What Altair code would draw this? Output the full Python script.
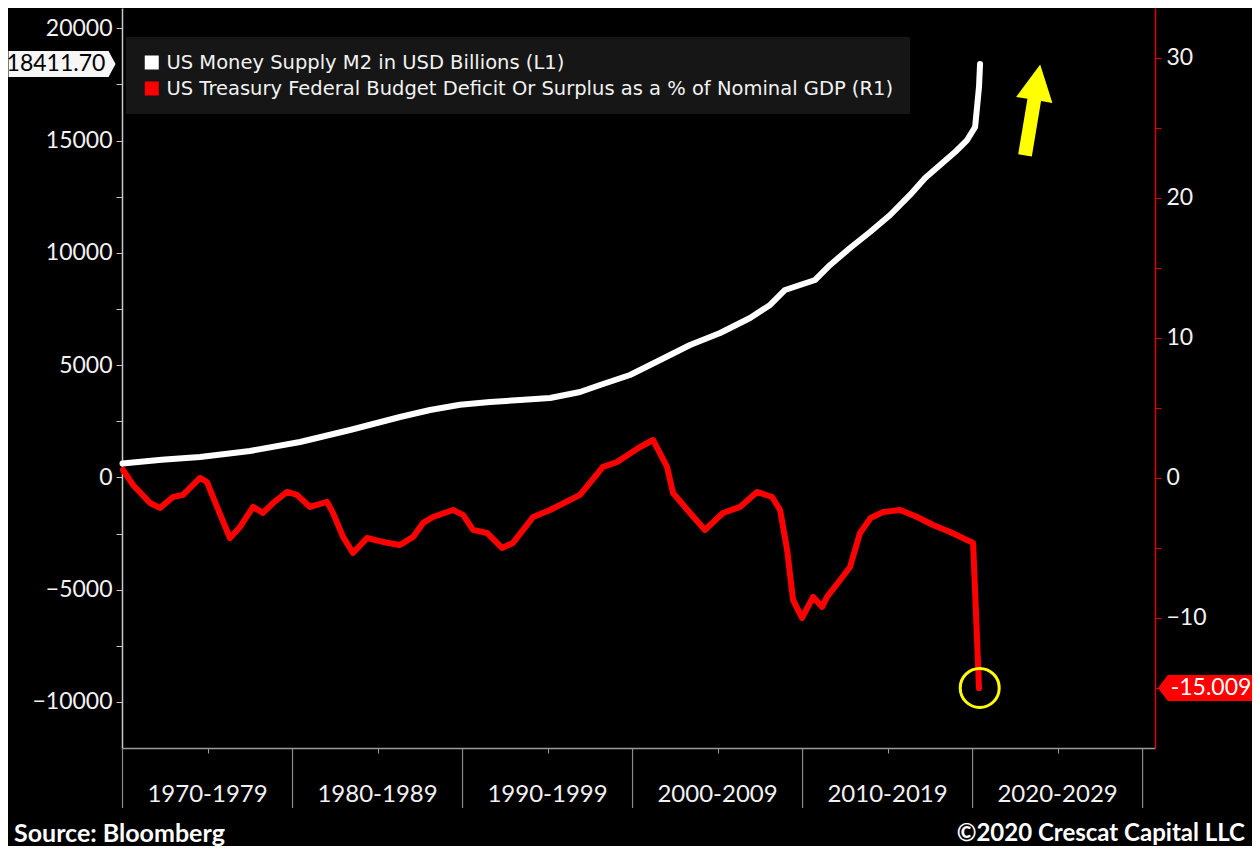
import altair as alt
import pandas as pd

# ---------------- data ----------------
m2_name = "US Money Supply M2 in USD Billions (L1)"
def_name = "US Treasury Federal Budget Deficit Or Surplus as a % of Nominal GDP (R1)"
series_names = [m2_name, def_name]
series_colors = ["#ffffff", "#ff0000"]

m2_years = [1970.0, 1972.3, 1974.56, 1977.5, 1980.44, 1983.38, 1986.32, 1988.09, 1989.85,
            1991.62, 1993.38, 1995.15, 1996.91, 1998.09, 1999.85, 2001.62, 2003.38, 2005.15,
            2006.91, 2008.09, 2008.97, 2009.85, 2010.74, 2011.62, 2012.79, 2013.97, 2015.15,
            2016.32, 2017.21, 2018.09, 2018.97, 2019.68, 2020.15, 2020.38, 2020.44]
m2_values = [620, 780, 908, 1175, 1576, 2110, 2689, 3000, 3233,
             3357, 3446, 3535, 3802, 4114, 4559, 5227, 5895, 6429,
             7097, 7676, 8344, 8566, 8789, 9457, 10214, 10926, 11683,
             12574, 13330, 13909, 14487, 15022, 15600, 17400, 18411.70]

def_years = [1970.03, 1970.62, 1971.62, 1972.21, 1972.97, 1973.56, 1973.97, 1974.56, 1974.97,
             1975.56, 1976.32, 1976.91, 1977.68, 1978.26, 1978.85, 1979.68, 1980.26, 1981.03,
             1982.03, 1982.38, 1982.97, 1983.56, 1984.38, 1985.32, 1986.32, 1987.09, 1987.68,
             1988.26, 1989.44, 1990.03, 1990.62, 1991.44, 1992.32, 1992.97, 1994.15, 1995.15,
             1996.91, 1998.26, 1999.09, 2000.44, 2001.21, 2002.03, 2002.38, 2003.38, 2004.26,
             2005.32, 2006.32, 2007.32, 2008.21, 2008.68, 2009.09, 2009.44, 2009.97, 2010.62,
             2011.15, 2011.44, 2012.21, 2012.79, 2013.38, 2014.0, 2014.74, 2015.74, 2016.74,
             2017.68, 2018.68, 2020.03, 2020.38]
def_values = [0.57, -0.50, -1.79, -2.14, -1.36, -1.21, -0.71, 0.0, -0.29,
              -2.07, -4.29, -3.50, -2.07, -2.50, -1.79, -1.00, -1.21, -2.07,
              -1.71, -2.50, -4.21, -5.36, -4.29, -4.57, -4.79, -4.21, -3.21,
              -2.79, -2.29, -2.64, -3.71, -3.93, -5.00, -4.64, -2.79, -2.29,
              -1.21, 0.79, 1.14, 2.21, 2.71, 0.79, -1.07, -2.50, -3.71,
              -2.50, -2.07, -1.00, -1.36, -2.29, -5.14, -8.71, -10.0, -8.50,
              -9.21, -8.50, -7.29, -6.36, -3.93, -2.86, -2.43, -2.29, -2.79,
              -3.36, -3.86, -4.64, -15.009]

decade_labels = ["1970-1979", "1980-1989", "1990-1999", "2000-2009", "2010-2019", "2020-2029"]
decade_mids = [1975, 1985, 1995, 2005, 2015, 2025]
decade_bounds = [1970, 1980, 1990, 2000, 2010, 2020, 2030]
mid_ticks = [1975, 1985, 1995, 2005, 2015, 2025]

m2_last_label = "18411.70"
m2_last = 18411.70
def_last_label = "-15.009"
def_last = -15.009
circle_year = [2020.42]
circle_value = [-15.0]
arrow_year = [2023.53]
arrow_value = [16360]

left_ticks = list(range(-10000, 20001, 2500))
right_ticks = list(range(-15, 31, 5))

# ---------------- scales ----------------
X_DOMAIN = [1969.97, 2030.73]
L_DOMAIN = [-12050, 20900]
R_DOMAIN = [-19.29, 33.57]

LABEL_FONT = "Lato"
FG = "#f2f2f2"

x_axis = alt.Axis(values=mid_ticks, labels=False, title=None, tickSize=5, grid=False,
                  domainColor="#9a9a9a", tickColor="#9a9a9a", domainWidth=1.5)
xscale = alt.Scale(domain=X_DOMAIN, nice=False, zero=False)


def xenc(field):
    return alt.X(f"{field}:Q", scale=xscale, axis=x_axis)


lscale = alt.Scale(domain=L_DOMAIN, nice=False, zero=False)
rscale = alt.Scale(domain=R_DOMAIN, nice=False, zero=False)

color_scale = alt.Scale(domain=series_names, range=series_colors)
legend = alt.Legend(title=None, orient="none", legendX=4, legendY=29, fillColor="#161616",
                    padding=16, symbolType="square", symbolSize=196, symbolStrokeWidth=0,
                    labelFont="DejaVu Sans", labelFontSize=19.5, labelColor=FG,
                    labelLimit=1000, rowPadding=6, labelOffset=5, symbolOpacity=1,
                    clipHeight=19)

m2_df = pd.DataFrame({"year": m2_years, "value": m2_values, "series": m2_name})
def_df = pd.DataFrame({"year": def_years, "value": def_values, "series": def_name})

m2_line = alt.Chart(m2_df).mark_line(strokeWidth=6, strokeJoin="round", strokeCap="round",
                                     color=series_colors[0]).encode(
    x=xenc("year"),
    y=alt.Y("value:Q", scale=lscale,
            axis=alt.Axis(orient="left", values=left_ticks,
                          labelExpr="datum.value % 5000 == 0 ? datum.label : ''",
                          format="d", tickSize=6, grid=False, title=None, labelPadding=4,
                          domainColor="#c8c8c8", tickColor="#c8c8c8", domainWidth=1.5)),
)

def_line = alt.Chart(def_df).mark_line(strokeWidth=6, strokeJoin="round", strokeCap="round",
                                       color=series_colors[1]).encode(
    x=xenc("year"),
    y=alt.Y("value:Q", scale=rscale,
            axis=alt.Axis(orient="right", values=right_ticks,
                          labelExpr="datum.value % 10 == 0 ? datum.label : ''",
                          format="d", tickSize=6, grid=False, title=None, labelPadding=5,
                          domainColor="#e00000", tickColor="#e00000", domainWidth=1.5)),
)

# legend carrier (invisible filled squares, so the legend shows filled swatches)
leg_df = pd.DataFrame({"series": series_names, "year": [1970.0, 1970.0], "value": [0.0, 0.0]})
legend_layer = alt.Chart(leg_df).mark_square(filled=True, opacity=0, size=1).encode(
    x=xenc("year"),
    y=alt.Y("value:Q", scale=lscale, axis=None),
    color=alt.Color("series:N", scale=color_scale, legend=legend, sort=series_names),
)

# decade bands below the axis
bounds_df = pd.DataFrame({"year": decade_bounds})
decade_rules = alt.Chart(bounds_df).mark_rule(color="#8a8a8a", strokeWidth=1.2).encode(
    x=xenc("year"), y=alt.value(741), y2=alt.value(800))

dec_df = pd.DataFrame({"mid": decade_mids, "label": decade_labels})
decade_text = alt.Chart(dec_df).mark_text(font=LABEL_FONT, fontSize=24, color=FG,
                                          baseline="middle", align="center").encode(
    x=xenc("mid"), y=alt.value(787), text="label:N")

# last value tags
TAG_RIGHT = "M-1,-0.243 L0.87,-0.243 L1,0 L0.87,0.243 L-1,0.243 Z"
TAG_LEFT = "M-1,0 L-0.8,-0.265 L1,-0.265 L1,0.265 L-0.8,0.265 Z"

m2_tag_df = pd.DataFrame({"value": [m2_last], "label": [m2_last_label]})
m2_tag = alt.Chart(m2_tag_df).mark_point(shape=TAG_RIGHT, size=11449, filled=True,
                                         color="#f6f6f6", opacity=1, strokeWidth=0).encode(
    x=alt.value(-60), y=alt.Y("value:Q", scale=lscale, axis=None))
m2_tag_text = alt.Chart(m2_tag_df).mark_text(font=LABEL_FONT, fontSize=23, color="#000000",
                                             baseline="middle", align="center").encode(
    x=alt.value(-66), y=alt.Y("value:Q", scale=lscale, axis=None), text="label:N")

def_tag_df = pd.DataFrame({"value": [def_last], "label": [def_last_label]})
def_tag = alt.Chart(def_tag_df).mark_point(shape=TAG_LEFT, size=9604, filled=True,
                                           color="#ff0000", opacity=1, strokeWidth=0).encode(
    x=alt.value(1085), y=alt.Y("value:Q", scale=rscale, axis=None))
def_tag_text = alt.Chart(def_tag_df).mark_text(font=LABEL_FONT, fontSize=23, color="#ffffff",
                                               baseline="middle", align="center").encode(
    x=alt.value(1089), y=alt.Y("value:Q", scale=rscale, axis=None), text="label:N")

# yellow annotations
circle_df = pd.DataFrame({"year": circle_year, "value": circle_value})
circle = alt.Chart(circle_df).mark_point(shape="circle", size=1520, filled=False,
                                         color="#ffff00", strokeWidth=3, opacity=1).encode(
    x=xenc("year"), y=alt.Y("value:Q", scale=rscale, axis=None))

ARROW = "M0,-1 L0.4,-0.22 L0.15,-0.22 L0.15,1 L-0.15,1 L-0.15,-0.22 L-0.4,-0.22 Z"
arrow_df = pd.DataFrame({"year": arrow_year, "value": arrow_value})
arrow = alt.Chart(arrow_df).mark_point(shape=ARROW, size=8464, filled=True, color="#ffff00",
                                       opacity=1, angle=9.5, strokeWidth=0).encode(
    x=xenc("year"), y=alt.Y("value:Q", scale=lscale, axis=None))

# footer
src_df = pd.DataFrame({"t": ["Source: Bloomberg"]})
source = alt.Chart(src_df).mark_text(font=LABEL_FONT, fontWeight="bold", fontSize=25, color="#ffffff",
                                     align="left", baseline="middle").encode(
    x=alt.value(-108), y=alt.value(826), text="t:N")
cr_df = pd.DataFrame({"t": ["©2020 Crescat Capital LLC"]})
copyright_ = alt.Chart(cr_df).mark_text(font=LABEL_FONT, fontWeight="bold", fontSize=24, color="#ffffff",
                                        align="right", baseline="middle").encode(
    x=alt.value(1123), y=alt.value(826), text="t:N")

chart = alt.layer(
    m2_line, def_line, legend_layer, decade_rules, decade_text, circle, arrow,
    m2_tag, m2_tag_text, def_tag, def_tag_text, source, copyright_
).resolve_scale(y="independent").properties(
    width=1033, height=740, background="#000000",
    padding={"left": 114, "top": 0, "right": 97, "bottom": 98},
    autosize=alt.AutoSizeParams(type="none"),
).configure_view(stroke=None).configure_axis(
    labelFont=LABEL_FONT, labelFontSize=23, labelColor=FG,
)

chart.save("out.html", embed_options={"renderer": "svg", "actions": False})
